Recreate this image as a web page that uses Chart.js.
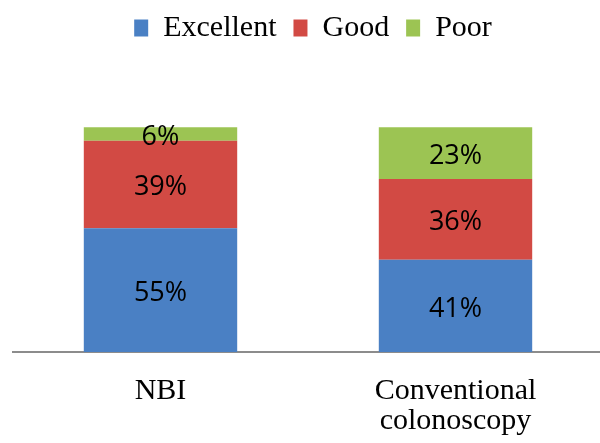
<!DOCTYPE html>
<html>
<head>
<meta charset="utf-8">
<script src="https://cdn.jsdelivr.net/npm/chart.js@4/dist/chart.umd.min.js"></script>
<style>
  html, body { margin: 0; padding: 0; background: #fff; overflow: hidden; }
  #wrap { width: 603px; height: 443px; }
</style>
</head>
<body>
<div id="wrap"><canvas id="qualityChart" width="603" height="443"></canvas></div>
<script>
// values (percent of cases)
const categories = ['NBI', ['Conventional', 'colonoscopy']];
const excellent = [55, 41];
const good = [39, 36];
const poor = [6, 23];
const seriesNames = ['Excellent', 'Good', 'Poor'];
const seriesColors = ['#4a80c4', '#d24a44', '#9cc453'];

const serif = '"Liberation Serif", "Times New Roman", serif';

// percent labels in the middle of each segment
const segmentLabels = {
    id: 'segmentLabels',
    afterLayout(chart) {
        // legend sits a little right of the plot centre in the original
        chart.legend.left += 5;
        chart.legend.right += 5;
    },
    afterDatasetsDraw(chart) {
        const ctx = chart.ctx;
        ctx.save();
        ctx.font = '27px "Open Sans"';
        ctx.fillStyle = '#000';
        ctx.textAlign = 'center';
        ctx.textBaseline = 'middle';
        chart.data.datasets.forEach((ds, i) => {
            chart.getDatasetMeta(i).data.forEach((bar, j) => {
                const mid = (bar.y + bar.base) / 2;
                ctx.fillText(ds.data[j] + '%', bar.x, mid + 3);
            });
        });
        ctx.restore();
    }
};

const ctx = document.getElementById('qualityChart').getContext('2d');
new Chart(ctx, {
    type: 'bar',
    data: {
        labels: categories,
        datasets: [excellent, good, poor].map((values, i) => ({
            label: seriesNames[i],
            data: values,
            backgroundColor: seriesColors[i],
            borderWidth: 0,
            barPercentage: 0.52,
            categoryPercentage: 1
        }))
    },
    options: {
        responsive: false,
        animation: false,
        layout: {
            padding: { left: 13, right: 0, top: -4, bottom: 0 }
        },
        plugins: {
            legend: {
                labels: {
                    color: '#000',
                    font: { family: serif, size: 30 },
                    boxWidth: 14,
                    boxHeight: 17,
                    padding: 17
                }
            },
            tooltip: { enabled: false }
        },
        scales: {
            x: {
                stacked: true,
                grid: { display: false, drawTicks: false },
                border: { display: true, color: '#8c8c8c', width: 2 },
                ticks: {
                    color: '#000',
                    font: { family: serif, size: 30, lineHeight: 1.0 },
                    padding: 24,
                    maxRotation: 0
                },
                afterFit(scale) {
                    scale.height = 91;
                }
            },
            y: {
                stacked: true,
                display: false,
                min: 0,
                max: 133
            }
        }
    },
    plugins: [segmentLabels]
});
</script>
</body>
</html>
